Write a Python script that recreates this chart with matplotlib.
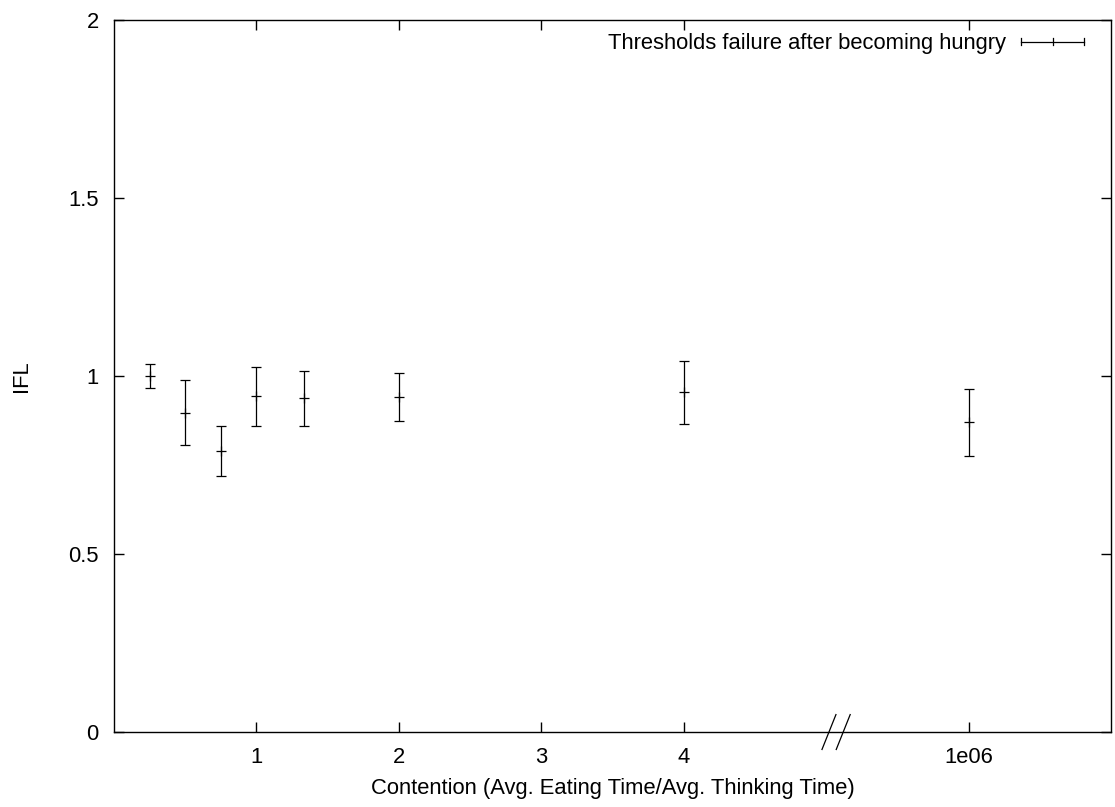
import numpy as np
import matplotlib
matplotlib.use("Agg")
import matplotlib.pyplot as plt
from matplotlib.lines import Line2D
from matplotlib.legend_handler import HandlerBase

plt.rcParams['font.family'] = ['Liberation Sans', 'DejaVu Sans']
plt.rcParams['font.size'] = 15.8

# contention values; the last one (1e06) is drawn past the axis break at 6
contention = np.array([0.25, 0.5, 0.75, 1.0, 1.333, 2.0, 4.0, 1e6])
ifl = np.array([1.000, 0.897, 0.789, 0.943, 0.937, 0.941, 0.954, 0.870])
ifl_err = np.array([0.033, 0.091, 0.070, 0.082, 0.078, 0.067, 0.088, 0.094])

tick_vals = [1, 2, 3, 4, 6]
tick_labels = ['1', '2', '3', '4', '1e06']
label = 'Thresholds failure after becoming hungry'

xpos = np.where(contention > 5, 6.0, contention)


class ErrbarHandler(HandlerBase):
    # gnuplot-style key sample: horizontal bar with end caps and a centre tick
    def create_artists(self, legend, orig_handle, xdescent, ydescent,
                       width, height, fontsize, trans):
        y = height / 2 - ydescent
        x0, x1 = -xdescent, width - xdescent
        xm = (x0 + x1) / 2
        c = 2.6
        arts = [Line2D([x0, x1], [y, y]),
                Line2D([x0, x0], [y - c, y + c]),
                Line2D([x1, x1], [y - c, y + c]),
                Line2D([xm, xm], [y - c, y + c])]
        for a in arts:
            a.set_color('black')
            a.set_linewidth(0.9)
            a.set_transform(trans)
        return arts


fig = plt.figure(figsize=(11.15, 8.07), dpi=100)
ax = fig.add_axes([0.1022, 0.0929, 0.9964 - 0.1022, 0.9752 - 0.0929])

ax.errorbar(xpos, ifl, yerr=ifl_err, fmt='+', color='black', ms=7,
            mew=0.9, elinewidth=0.9, capsize=3.4, capthick=0.9)

ax.set_xlim(0, 7)
ax.set_ylim(0, 2)
ax.set_xticks(tick_vals)
ax.set_xticklabels(tick_labels)
ax.set_yticks([0, 0.5, 1, 1.5, 2])
ax.set_yticklabels(['0', '0.5', '1', '1.5', '2'])
ax.tick_params(direction='in', length=7, width=1, top=True, right=True, pad=11)
for s in ax.spines.values():
    s.set_linewidth(1)

ax.set_xlabel('Contention (Avg. Eating Time/Avg. Thinking Time)', labelpad=7)
ax.set_ylabel('IFL', labelpad=26)

# axis break marks between 4 and 1e06
for cx in (5.02, 5.12):
    ax.plot([cx - 0.049, cx + 0.049], [-0.049, 0.049], color='black',
            lw=0.9, clip_on=False)

h = Line2D([], [])
ax.legend([h], [label], handler_map={Line2D: ErrbarHandler()},
          loc='upper right', bbox_to_anchor=(0.982, 0.9935),
          frameon=False, markerfirst=False,
          handlelength=2.87, handletextpad=0.68, borderaxespad=0,
          fontsize=15.8)

fig.savefig('out.png', dpi=100)
